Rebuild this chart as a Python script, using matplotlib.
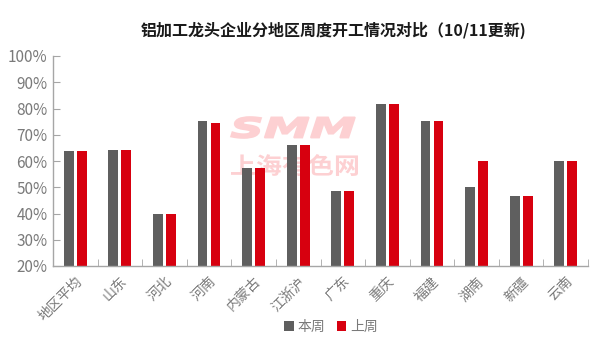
import matplotlib
matplotlib.use("Agg")
import matplotlib.pyplot as plt
import numpy as np
from matplotlib.ticker import FixedLocator, PercentFormatter
from matplotlib.textpath import TextPath
from matplotlib.font_manager import FontProperties
from matplotlib.patches import PathPatch
from matplotlib.transforms import Affine2D

plt.rcParams['font.family'] = ['Noto Sans CJK SC', 'DejaVu Sans']

categories = ['地区平均', '山东', '河北', '河南', '内蒙古', '江浙沪', '广东', '重庆', '福建', '湖南', '新疆', '云南']
this_week = [63.7, 64.1, 39.8, 75.1, 57.3, 66.0, 48.5, 81.6, 75.1, 50.0, 46.6, 60.0]
last_week = [63.7, 64.1, 39.8, 74.4, 57.3, 66.0, 48.5, 81.6, 75.1, 59.9, 46.6, 60.0]
series_names = ['本周', '上周']
title = '铝加工龙头企业分地区周度开工情况对比（10/11更新)'

W, H = 603, 349
fig = plt.figure(figsize=(W/100, H/100), dpi=100)
ax = fig.add_axes([53/W, 1-266/H, (588-53)/W, (266-56)/H])

def watermark(text, box, weight, family, style='normal', lw=0.0):
    # box: (x0, y0_top, x1, y1_bottom) in image pixels
    tp = TextPath((0, 0), text, size=50, prop=FontProperties(family=family, weight=weight, style=style))
    ext = tp.get_extents()
    x0, yt, x1, yb = box
    sx = (x1 - x0) / ext.width
    sy = (yb - yt) / ext.height
    tr = Affine2D().translate(-ext.x0, -ext.y0).scale(sx, sy).translate(x0, H - yb)
    p = PathPatch(tr.transform_path(tp), facecolor='#fdd0d2', edgecolor='#fdd0d2', linewidth=lw,
                  transform=None, zorder=1)
    ax.add_artist(p)

watermark('SMM', (231, 117, 355, 138), 'heavy', 'DejaVu Sans', 'oblique', lw=1.2)
watermark('上海有色网', (231, 154, 358, 176), 'bold', 'Noto Sans CJK SC')

x = np.arange(len(categories))
w = 0.22
off = 0.146
ax.bar(x - off, this_week, w, color='#5f5f5f', label=series_names[0], zorder=2)
ax.bar(x + off, last_week, w, color='#d7000f', label=series_names[1], zorder=2)

ax.set_xlim(-0.5, len(categories) - 0.5)
ax.set_ylim(20, 100)
ax.set_yticks(np.arange(20, 101, 10))
ax.yaxis.set_major_formatter(PercentFormatter(decimals=0))
ax.set_xticks(x)
ax.set_xticklabels(categories, rotation=45, ha='right', rotation_mode='anchor')
ax.xaxis.set_minor_locator(FixedLocator(np.arange(-0.5, len(categories), 1)))
ax.tick_params(axis='x', which='major', length=0, pad=6, labelsize=10, labelcolor='#7a7a7a')
ax.tick_params(axis='x', which='minor', length=5, direction='in', color='#a6a6a6')
ax.tick_params(axis='y', length=5, direction='in', color='#a6a6a6', labelsize=11, labelcolor='#7a7a7a', pad=4)

for s in ['top', 'right']:
    ax.spines[s].set_visible(False)
for s in ['left', 'bottom']:
    ax.spines[s].set_color('#a6a6a6')
    ax.spines[s].set_linewidth(1)
    ax.spines[s].set_zorder(3)

fig.text(334/W, 1-30/H, title, ha='center', va='center', fontsize=11.5, fontweight='bold', color='#1a1a1a')

leg = fig.legend(loc='center', bbox_to_anchor=(331/W, 1-327/H), ncol=2, frameon=False,
                 fontsize=10, handlelength=0.7, handleheight=0.7, handletextpad=0.3, columnspacing=0.8)
for t in leg.get_texts():
    t.set_color('#7a7a7a')

fig.savefig('out.png', dpi=100)
